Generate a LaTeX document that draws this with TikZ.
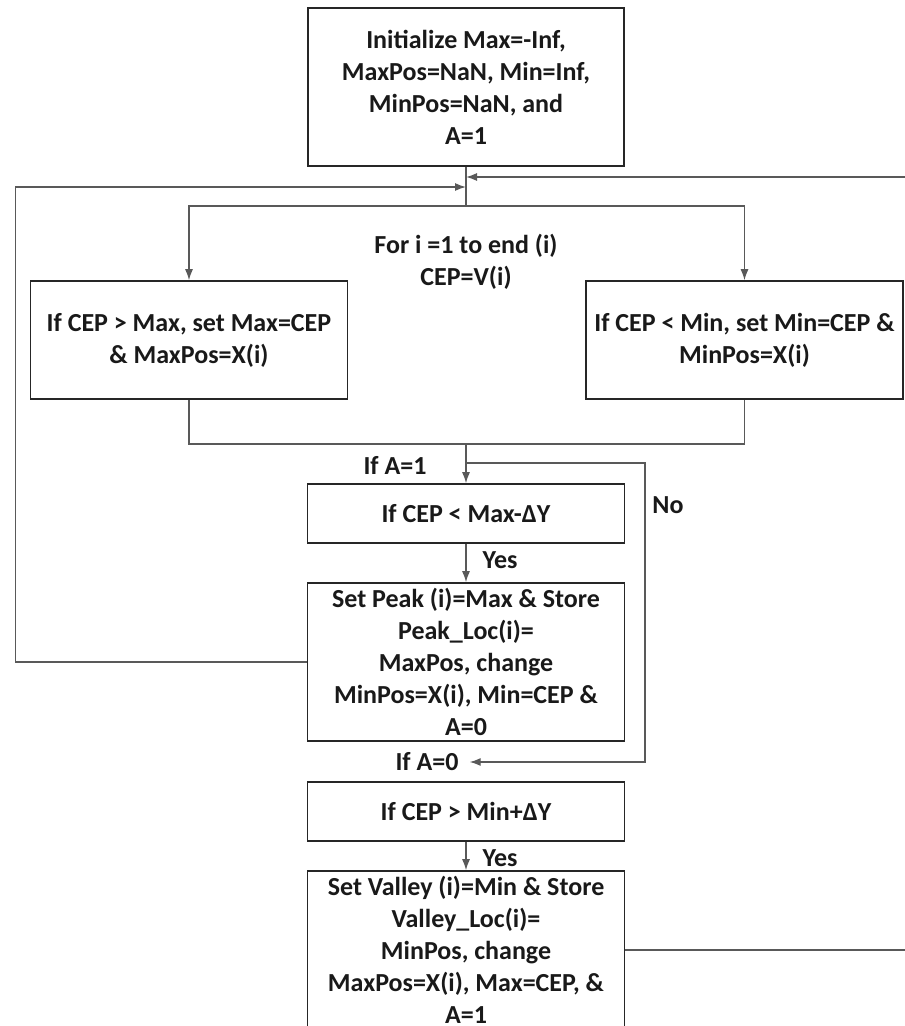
\documentclass[tikz,border=0pt]{standalone}
\usepackage{fontspec}
\setmainfont{Carlito}
\usetikzlibrary{positioning, arrows.meta}
\tikzset{>={Latex[length=11pt, width=8pt]}}

\begin{document}
\begin{tikzpicture}[x=1pt, y=-1pt,
    box/.style={draw=black!85, line width=1.6pt, align=center, inner sep=0pt, text=black!90,
        font=\bfseries\fontsize{26}{32}\selectfont},
    wire/.style={draw=black!65, line width=1.3pt},
    lbl/.style={inner sep=0pt, align=center, text=black!90, font=\bfseries\fontsize{26}{32}\selectfont}]
    \useasboundingbox (0,0) rectangle (905,1026);

    % boxes
    \node[box, minimum width=316pt, minimum height=158pt] (init) at (466,87)
        {Initialize Max=-Inf,\\MaxPos=NaN, Min=Inf,\\MinPos=NaN, and\\A=1};
    \node[box, minimum width=317pt, minimum height=118pt] (maxbox) at (189,340)
        {If CEP > Max, set Max=CEP\\\& MaxPos=X(i)};
    \node[box, minimum width=317pt, minimum height=118pt] (minbox) at (744.5,340)
        {If CEP < Min, set Min=CEP \&\\MinPos=X(i)};
    \node[box, minimum width=317pt, minimum height=59pt] (cond1) at (466,513.5)
        {If CEP < Max-ΔY};
    \node[box, minimum width=317pt, minimum height=158pt] (peak) at (466,662)
        {Set Peak (i)=Max \& Store\\Peak\_Loc(i)=\\MaxPos, change\\MinPos=X(i), Min=CEP \&\\A=0};
    \node[box, minimum width=317pt, minimum height=59pt] (cond2) at (466,811.5)
        {If CEP > Min+ΔY};
    \node[box, minimum width=317pt, minimum height=158pt] (valley) at (466,950)
        {Set Valley (i)=Min \& Store\\Valley\_Loc(i)=\\MinPos, change\\MaxPos=X(i), Max=CEP, \&\\A=1};

    % labels
    \node[lbl] (forlbl) at (466,262) {For i =1 to end (i)\\CEP=V(i)};
    \node[lbl] (ifa1) at (395,465) {If A=1};
    \node[lbl] (nolbl) at (668,505) {No};
    \node[lbl] (yes1) at (500,560) {Yes};
    \node[lbl] (ifa0) at (427,762) {If A=0};
    \node[lbl] (yes2) at (500,858) {Yes};

    \coordinate (split) at (466,206);
    \coordinate (join) at (466,444);
    \coordinate (noA) at (645,463);
    \coordinate (loopL) at (15.6,187);
    \coordinate (loopR) at (910,177);

    % connectors
    \draw[wire] (init.south) -- (split);
    \draw[wire, ->] (split) -| (maxbox.north);
    \draw[wire, ->] (split) -| (minbox.north);
    \draw[wire] (maxbox.south) |- (join) -| (minbox.south);
    \draw[wire, ->] (join) -- (cond1.north);
    \draw[wire, ->] (join |- noA) -- (noA) |- ([xshift=11pt]ifa0.east);
    \draw[wire, ->] (cond1.south) -- (peak.north);
    \draw[wire, ->] (cond2.south) -- (valley.north);
    \draw[wire, ->] (peak.west) -| (loopL) -- (loopL -| split);
    \draw[wire, ->] (valley.east) -| (loopR) -- (loopR -| split);
\end{tikzpicture}
\end{document}
